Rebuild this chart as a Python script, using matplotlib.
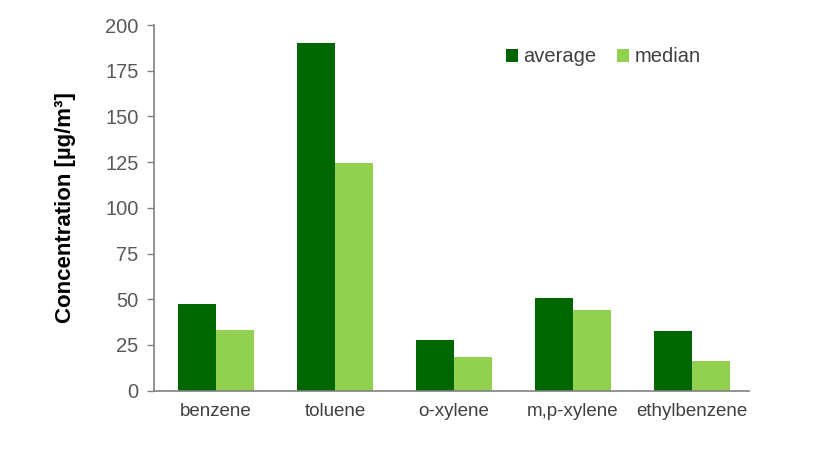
import matplotlib
matplotlib.use("Agg")
import matplotlib.pyplot as plt
import numpy as np

plt.rcParams['font.family'] = ['Liberation Sans', 'DejaVu Sans']

categories = ["benzene", "toluene", "o-xylene", "m,p-xylene", "ethylbenzene"]
average = [47.4, 190.3, 27.7, 50.8, 32.6]
median = [33.2, 124.6, 18.6, 44.3, 16.4]
yticks = [0, 25, 50, 75, 100, 125, 150, 175, 200]

fig = plt.figure(figsize=(8.38, 4.53), dpi=100)
ax = fig.add_axes([0.1838, 0.1375, 0.7102, 0.8073])

x = np.arange(len(categories))
w = 0.317
ax.bar(x - w / 2, average, width=w, color="#006600", label="average")
ax.bar(x + w / 2, median, width=w, color="#92D050", label="median")

ax.set_xlim(-0.52, 4.48)
ax.set_ylim(0, 200)
ax.set_yticks(yticks)
ax.set_xticks(x)
ax.set_xticklabels(categories, fontsize=13.5, color="#404040")
ax.tick_params(axis='x', length=0, pad=9)
ax.tick_params(axis='y', length=5, width=1, color="#808080", labelsize=14.5, labelcolor="#595959", pad=6)

for s in ("top", "right"):
    ax.spines[s].set_visible(False)
for s in ("left", "bottom"):
    ax.spines[s].set_color("#808080")
    ax.spines[s].set_linewidth(1.2)

fig.text(65 / 838, 1 - 208 / 453, "Concentration [µg/m³]", fontsize=16, fontweight="bold",
         rotation=90, ha="center", va="center", color="black")

leg = fig.legend(loc="center left", bbox_to_anchor=(506 / 838, 1 - 57 / 453), ncol=2, frameon=False,
                 fontsize=14.5, handlelength=0.6, handleheight=0.6, handletextpad=0.25,
                 columnspacing=1.05, borderpad=0, borderaxespad=0)
for t in leg.get_texts():
    t.set_color("#404040")

fig.savefig("out.png", dpi=100)
